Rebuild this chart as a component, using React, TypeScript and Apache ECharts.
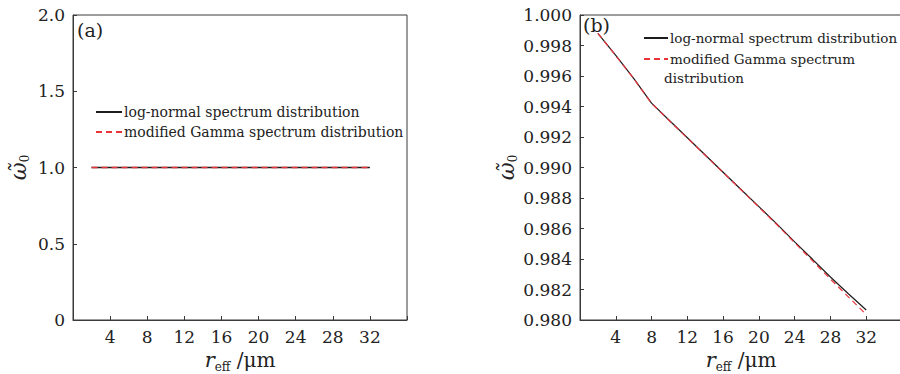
import React, { useEffect, useRef } from "react";
import * as echarts from "echarts";

const rEff = [2, 4, 6, 8, 10, 12, 14, 16, 18, 20, 22, 24, 26, 28, 30, 32];
const logNormalA = [1.0, 1.0, 1.0, 1.0, 1.0, 1.0, 1.0, 1.0, 1.0, 1.0, 1.0, 1.0, 1.0, 1.0, 1.0, 1.0];
const gammaA = [1.0, 1.0, 1.0, 1.0, 1.0, 1.0, 1.0, 1.0, 1.0, 1.0, 1.0, 1.0, 1.0, 1.0, 1.0, 1.0];
const logNormalB = [0.9988, 0.99735, 0.99585, 0.99422, 0.99308, 0.99195, 0.99082, 0.98969, 0.98856, 0.98743, 0.9863, 0.98512, 0.98398, 0.98282, 0.98172, 0.98066];
const gammaB = [0.9988, 0.99733, 0.99583, 0.9942, 0.99306, 0.99193, 0.9908, 0.98967, 0.98854, 0.9874, 0.98626, 0.98507, 0.98388, 0.98268, 0.98152, 0.98036];
const xTickLabels = ["4", "8", "12", "16", "20", "24", "28", "32"];
const seriesNames = ["log-normal spectrum distribution", "modified Gamma spectrum distribution"];

const FONT = "DejaVu Serif";
const AXIS_COLOR = "#3a3a3a";
const BLACK = "#1c1c1c";
const RED = "#e8333a";

const pairs = (xs: number[], ys: number[]) => xs.map((x, i) => [x, ys[i]]);

function xAxisCfg(gridIndex: number) {
  return {
    type: "value",
    gridIndex,
    min: 0,
    max: 36,
    interval: 4,
    name: "{i|r}{sub|eff}{n| /μm}",
    nameLocation: "middle",
    nameGap: 25,
    nameTextStyle: {
      rich: {
        i: { fontFamily: FONT, fontStyle: "italic", fontSize: 21, color: "#222" },
        sub: { fontFamily: FONT, fontSize: 12, color: "#222", verticalAlign: "bottom", padding: [13, 0, 0, 0] },
        n: { fontFamily: FONT, fontSize: 20, color: "#222" },
      },
    },
    axisLine: { show: true, lineStyle: { color: AXIS_COLOR, width: 1 } },
    axisTick: { show: true, inside: true, length: 4, lineStyle: { color: AXIS_COLOR } },
    splitLine: { show: false },
    axisLabel: {
      fontFamily: FONT,
      fontSize: 17,
      color: "#222",
      margin: 8,
      formatter: (v: number) => (xTickLabels.indexOf(String(v)) >= 0 ? String(v) : ""),
    },
  };
}

function yAxisCfg(gridIndex: number, min: number, max: number, interval: number, digits: number, gap: number) {
  return {
    type: "value",
    gridIndex,
    min,
    max,
    interval,
    name: "{w|ω̃}{s|0}",
    nameLocation: "middle",
    nameRotate: 90,
    nameGap: gap,
    nameTextStyle: {
      rich: {
        w: { fontFamily: FONT, fontStyle: "italic", fontSize: 22, color: "#222" },
        s: { fontFamily: FONT, fontSize: 12, color: "#222", padding: [13, 0, 0, 0] },
      },
    },
    axisLine: { show: true, lineStyle: { color: AXIS_COLOR, width: 1 } },
    axisTick: { show: true, inside: true, length: 4, lineStyle: { color: AXIS_COLOR } },
    splitLine: { show: false },
    axisLabel: {
      fontFamily: FONT,
      fontSize: 17,
      color: "#222",
      margin: 8,
      formatter: (v: number) => (Math.abs(v) < 1e-9 ? "0" : v.toFixed(digits)),
    },
  };
}

export default function App() {
  const ref = useRef<HTMLDivElement>(null);
  useEffect(() => {
    if (!ref.current) return;
    const chart = echarts.init(ref.current, undefined, { renderer: "svg" });
    const lineCommon = { type: "line", symbol: "none", smooth: false };
    chart.setOption({
      animation: false,
      backgroundColor: "#ffffff",
      grid: [
        { left: 73, right: 493, top: 15, bottom: 54, outerBoundsMode: "none", containLabel: false, show: true, borderColor: AXIS_COLOR, borderWidth: 1, backgroundColor: "transparent" },
        { left: 580, right: -2, top: 15, bottom: 54, outerBoundsMode: "none", containLabel: false, show: true, borderColor: AXIS_COLOR, borderWidth: 1, backgroundColor: "transparent" },
      ],
      xAxis: [xAxisCfg(0), xAxisCfg(1)],
      yAxis: [yAxisCfg(0, 0, 2, 0.5, 1, 42), yAxisCfg(1, 0.98, 1.0, 0.002, 3, 60)],
      legend: [
        {
          orient: "vertical",
          left: 90,
          top: 100,
          itemWidth: 26,
          itemHeight: 14,
          itemGap: 6,
          data: seriesNames,
          itemStyle: { opacity: 0 },
          textStyle: { fontFamily: FONT, fontSize: 14, color: "#222", padding: [0, 0, 0, -3] },
        },
        {
          orient: "vertical",
          left: 638,
          top: 26,
          itemWidth: 24,
          itemHeight: 14,
          itemGap: 7,
          data: seriesNames,
          itemStyle: { opacity: 0 },
          formatter: (name: string) => (name === seriesNames[1] ? "modified Gamma spectrum" : name),
          textStyle: { fontFamily: FONT, fontSize: 13.5, color: "#222", padding: [0, 0, 0, -3] },
        },
      ],
      graphic: [
        { type: "text", left: 77, top: 20, style: { text: "(a)", fontFamily: FONT, fontSize: 19, fill: "#222" } },
        { type: "text", left: 583, top: 15, style: { text: "(b)", fontFamily: FONT, fontSize: 19, fill: "#222" } },
        { type: "text", left: 664, top: 71, style: { text: "distribution", fontFamily: FONT, fontSize: 13.5, fill: "#222" } },
      ],
      series: [
        { ...lineCommon, name: seriesNames[0], xAxisIndex: 0, yAxisIndex: 0, data: pairs(rEff, logNormalA), lineStyle: { color: BLACK, width: 1.3, type: "solid" }, itemStyle: { color: BLACK } },
        { ...lineCommon, name: seriesNames[1], xAxisIndex: 0, yAxisIndex: 0, data: pairs(rEff, gammaA), lineStyle: { color: RED, width: 1.3, type: [6, 4] }, itemStyle: { color: RED } },
        { ...lineCommon, name: seriesNames[0], xAxisIndex: 1, yAxisIndex: 1, data: pairs(rEff, logNormalB), lineStyle: { color: BLACK, width: 1.2, type: "solid" }, itemStyle: { color: BLACK } },
        { ...lineCommon, name: seriesNames[1], xAxisIndex: 1, yAxisIndex: 1, data: pairs(rEff, gammaB), lineStyle: { color: RED, width: 1.2, type: [6, 4] }, itemStyle: { color: RED } },
      ],
    });
    return () => chart.dispose();
  }, []);
  return <div ref={ref} style={{ position: "fixed", left: 0, top: 0, width: 900, height: 374 }} />;
}
